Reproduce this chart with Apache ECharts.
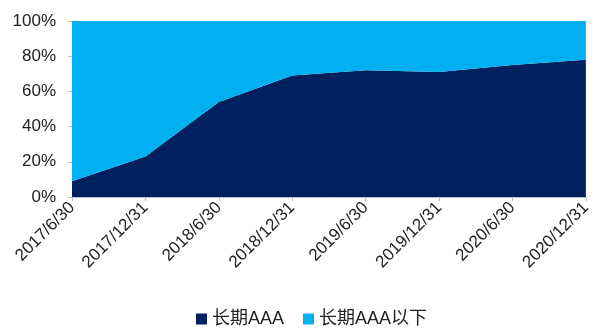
<!DOCTYPE html>
<html>
<head>
<meta charset="utf-8">
<script src="https://cdn.jsdelivr.net/npm/echarts@6/dist/echarts.min.js"></script>
<style>
  html, body { margin: 0; padding: 0; background: #fff; }
  #chart { width: 594px; height: 331px; }
</style>
</head>
<body>
<div id="chart"></div>
<script>
// Reporting dates
const dates = ['2017/6/30', '2017/12/31', '2018/6/30', '2018/12/31',
               '2019/6/30', '2019/12/31', '2020/6/30', '2020/12/31'];
// Share of long-term AAA (%)
const aaaShare = [9, 23, 54, 69, 72, 71, 75, 78];
// Share below long-term AAA (%)
const belowAaaShare = [91, 77, 46, 31, 28, 29, 25, 22];
// Y-axis ticks
const yTicks = [0, 20, 40, 60, 80, 100];

const font = '"Liberation Sans", Arial, sans-serif';
const chart = echarts.init(document.getElementById('chart'));
chart.setOption({
  animation: false,
  grid: { left: 72, right: 3, top: 21, bottom: 134 },
  legend: {
    bottom: -2,
    left: 191,
    itemWidth: 11,
    itemHeight: 11,
    itemGap: 19,
    icon: 'rect',
    textStyle: { fontFamily: '"Liberation Sans", "Noto Sans CJK SC", sans-serif', fontSize: 18, color: '#222' },
    data: ['长期AAA', '长期AAA以下']
  },
  xAxis: {
    type: 'category',
    boundaryGap: false,
    data: dates,
    axisLine: { lineStyle: { color: '#bfbfbf' } },
    axisTick: { show: true, length: 4, lineStyle: { color: '#bfbfbf' } },
    axisLabel: { rotate: 45, fontFamily: font, fontSize: 17, color: '#222', margin: 8 }
  },
  yAxis: {
    type: 'value',
    min: yTicks[0],
    max: yTicks[yTicks.length - 1],
    interval: 20,
    splitLine: { show: false },
    axisLine: { show: true, lineStyle: { color: '#bfbfbf' } },
    axisTick: { show: true, length: 4, lineStyle: { color: '#bfbfbf' } },
    axisLabel: { formatter: '{value}%', fontFamily: font, fontSize: 17, color: '#222', margin: 16 }
  },
  series: [
    {
      name: '长期AAA',
      type: 'line',
      stack: 'total',
      data: aaaShare,
      symbol: 'none',
      lineStyle: { width: 0 },
      areaStyle: { color: '#002060', opacity: 1 },
      itemStyle: { color: '#002060' }
    },
    {
      name: '长期AAA以下',
      type: 'line',
      stack: 'total',
      data: belowAaaShare,
      symbol: 'none',
      lineStyle: { width: 0 },
      areaStyle: { color: '#00b0f0', opacity: 1 },
      itemStyle: { color: '#00b0f0' }
    }
  ]
});
</script>
</body>
</html>
